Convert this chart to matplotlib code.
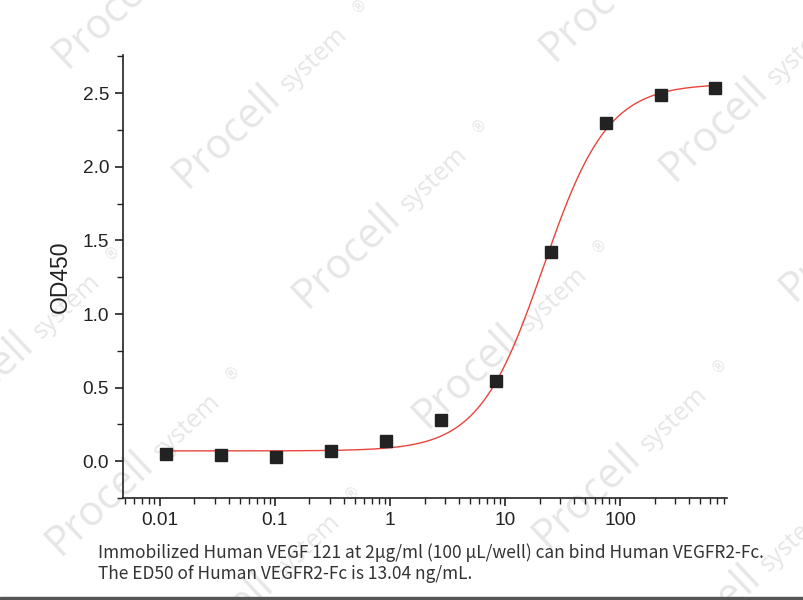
import numpy as np
import matplotlib.pyplot as plt
from matplotlib.patches import Rectangle

# concentration (ng/mL), 3-fold dilutions, and measured OD450
conc = [0.01143, 0.0343, 0.1029, 0.3086, 0.926, 2.778, 8.333, 25.0, 75.0, 225.0, 675.0]
od450 = [0.048, 0.040, 0.027, 0.068, 0.136, 0.279, 0.543, 1.42, 2.296, 2.486, 2.534]

# 4PL fit parameters
fit_bottom = 0.07
fit_top = 2.565
fit_ec50 = 21.5
fit_hill = 1.55

xticks = [0.01, 0.1, 1, 10, 100]
xticklabels = ['0.01', '0.1', '1', '10', '100']
yticks = [0.0, 0.5, 1.0, 1.5, 2.0, 2.5]

caption = ['Immobilized Human VEGF 121 at 2μg/ml (100 μL/well) can bind Human VEGFR2-Fc.',
           'The ED50 of Human VEGFR2-Fc is 13.04 ng/mL.']


def four_pl(x):
    return fit_bottom + (fit_top - fit_bottom) / (1 + (fit_ec50 / x) ** fit_hill)


fig = plt.figure(figsize=(8.04, 6), dpi=100)
W, H = 804, 600

# watermarks, repeated on a slanted lattice
ang = 43.5
d = np.array([np.cos(np.radians(ang)), -np.sin(np.radians(ang))])
base = np.array([187, 189])
v1 = np.array([120, 120])
v2 = np.array([367, -127])
wm_color = '#e6e6e6'
for a in range(-4, 6):
    for b in range(-2, 4):
        p = base + a * v1 + b * v2
        if not (-250 < p[0] < W and 0 < p[1] < H + 200):
            continue
        fig.text(p[0] / W, 1 - p[1] / H, 'Procell', fontsize=30, family='Open Sans',
                 color=wm_color, rotation=ang, rotation_mode='anchor',
                 ha='left', va='baseline', zorder=-1)
        q = p + 140 * d
        fig.text(q[0] / W, 1 - q[1] / H, 'system', fontsize=18, family='Open Sans',
                 color=wm_color, rotation=ang, rotation_mode='anchor',
                 ha='left', va='baseline', zorder=-1)
        r = p + 240 * d + np.array([-4, -10])
        fig.text(r[0] / W, 1 - r[1] / H, '®', fontsize=11, family='DejaVu Sans',
                 color=wm_color, rotation=ang, rotation_mode='anchor',
                 ha='left', va='baseline', zorder=-1)

ax = fig.add_axes([123 / W, 102 / H, 604 / W, 443 / H])
ax.set_facecolor('none')
ax.set_zorder(2)

xs = np.logspace(np.log10(conc[0]), np.log10(conc[-1]), 400)
ax.plot(xs, four_pl(xs), color='#e8453c', lw=1.0, zorder=2)
ax.plot(conc, od450, 's', color='#222222', markersize=8, zorder=3)

ax.set_xscale('log')
ax.set_xlim(0.0048, 850)
ax.set_ylim(-0.25, 2.76)
ax.set_xticks(xticks)
ax.set_xticklabels(xticklabels)
ax.set_yticks(yticks)
ax.set_yticks(np.arange(-0.25, 2.76, 0.5), minor=True)
ax.set_xticks([m * 10.0 ** e for e in range(-3, 3) for m in range(2, 10)
               if 0.0048 < m * 10.0 ** e < 850], minor=True)
ax.xaxis.set_minor_formatter(plt.NullFormatter())

for s in ['top', 'right']:
    ax.spines[s].set_visible(False)
for s in ['left', 'bottom']:
    ax.spines[s].set_linewidth(1.2)
    ax.spines[s].set_color('#222222')

ax.tick_params(which='major', direction='out', length=6, width=1.2, color='#222222',
               labelsize=13.7, pad=4)
ax.tick_params(which='minor', direction='out', length=4, width=1.0, color='#222222')
for lab in ax.get_xticklabels() + ax.get_yticklabels():
    lab.set_family('Liberation Sans')
    lab.set_color('#222222')

ax.set_ylabel('OD450', fontsize=16.5, family='Liberation Sans', color='#222222', labelpad=8)

fig.text(98 / W, 1 - 553 / H, caption[0], fontsize=12.45, family='Noto Sans CJK SC',
         color='#333333', ha='left', va='center')
fig.text(98 / W, 1 - 574 / H, caption[1], fontsize=12.45, family='Noto Sans CJK SC',
         color='#333333', ha='left', va='center')

fig.add_artist(Rectangle((0, 0), 1, 3 / H, transform=fig.transFigure,
                         color='#555555', zorder=5))

fig.savefig('out.png', dpi=100)
